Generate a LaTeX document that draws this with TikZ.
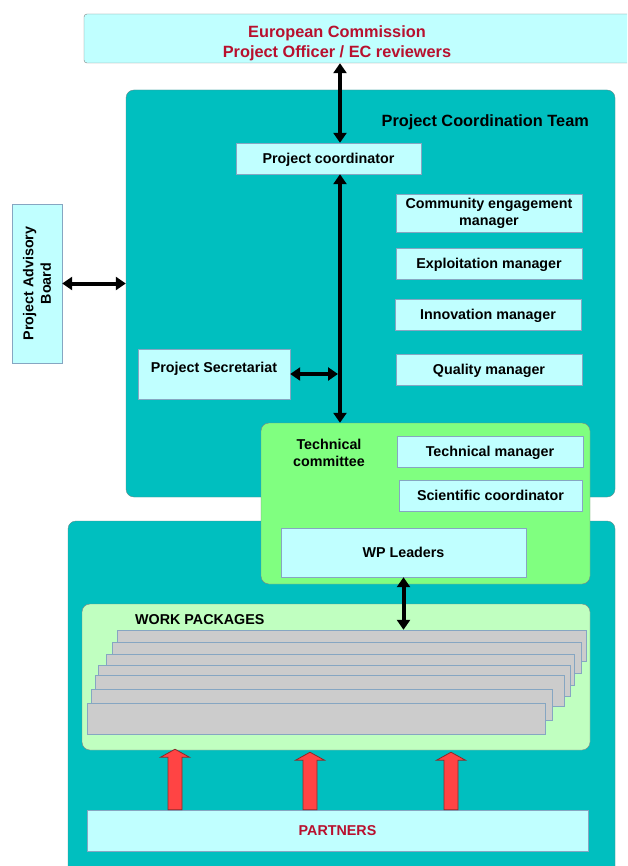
\documentclass[tikz,border=0pt]{standalone}
\usepackage{fontspec}
\setmainfont{Liberation Sans}
\usetikzlibrary{arrows.meta}

\definecolor{boxcyan}{HTML}{C0FFFF}
\definecolor{boxline}{HTML}{86A6C2}
\definecolor{pctteal}{HTML}{00BFBF}
\definecolor{panelline}{HTML}{5F8C8C}
\definecolor{tcgreen}{HTML}{80FF80}
\definecolor{wpgreen}{HTML}{C0FFC0}
\definecolor{wpgray}{HTML}{CCCCCC}
\definecolor{ecred}{HTML}{B8102E}
\definecolor{arrowred}{HTML}{FF4444}
\definecolor{arrowline}{HTML}{8A2A2A}

\tikzset{
  box/.style={draw=boxline, fill=boxcyan, inner sep=0pt},
  onebox/.style={box, text height=11pt, text depth=1pt},
  panel/.style={draw=panelline, fill=pctteal, rounded corners=8pt, inner sep=0pt},
  wpbox/.style={draw=boxline, fill=wpgray, inner sep=0pt},
  bigtext/.style={font=\fontsize{16.3}{20}\selectfont\bfseries},
  bigarrow/.style={line width=4pt, {Triangle[length=10pt,width=13pt]}-{Triangle[length=10pt,width=13pt]}},
  partarrow/.style={fill=arrowred, draw=arrowline, line width=0.8pt, line join=miter},
}

\begin{document}
\begin{tikzpicture}[x=1pt, y=-1pt, font=\fontsize{14.3}{17.5}\selectfont\bfseries]
    \clip (0,0) rectangle (627,866);
    \fill[white] (0,0) rectangle (627,866);

    % panels
    \node[panel, minimum width=489, minimum height=407] (pct) at (370.5,293.5) {};
    \node[panel, minimum width=547, minimum height=359] (ops) at (341.5,700.5) {};

    % European Commission
    \node[box, draw=gray, rounded corners=3pt, minimum width=556, minimum height=49] (ecbox) at (362,38.5) {};
    \node[bigtext, text=ecred, align=center] (ec) at (337,43) {European Commission\\Project Officer / EC reviewers};

    % coordination team
    \node[bigtext, anchor=east, inner sep=0pt] (pcttitle) at (589,122) {Project Coordination Team};
    \coordinate (spine) at (340,0);
    \node[onebox, minimum width=185, minimum height=31] (coord) at (328.5,158.5) {Project coordinator};
    \node[box, align=center, minimum width=186, minimum height=38] (cem) at (489,213.5) {Community engagement\\manager};
    \node[onebox, minimum width=186, minimum height=31] (expl) at (489,263.5) {Exploitation manager};
    \node[onebox, minimum width=186, minimum height=31] (innov) at (488,314.5) {Innovation manager};
    \node[onebox, minimum width=186, minimum height=31] (qual) at (489,369.5) {Quality manager};
    \node[onebox, minimum width=152, minimum height=50, text depth=15pt] (secr) at (214,374) {Project Secretariat};

    % advisory board
    \node[box, rotate=90, align=center, minimum width=159, minimum height=50] (pab) at (37,283.5) {Project Advisory\\Board};

    % technical committee
    \node[panel, fill=tcgreen, draw=gray, minimum width=329, minimum height=161] (tc) at (425.5,503.5) {};
    \node[align=center] (tctext) at (329,453) {Technical\\committee};
    \node[onebox, minimum width=186, minimum height=31] (techm) at (490,451.5) {Technical manager};
    \node[onebox, minimum width=183, minimum height=31] (scic) at (490.5,495.5) {Scientific coordinator};
    \node[onebox, minimum width=245, minimum height=49] (wpl) at (403.5,552.5) {WP Leaders};

    % work packages
    \node[panel, fill=wpgreen, draw=gray, minimum width=508, minimum height=146] (wps) at (336,677) {};
    \node[anchor=west, inner sep=0pt] (wptitle) at (135,620) {WORK PACKAGES};
    \foreach \l/\t/\r [count=\i] in {117/630/586, 112/642/581, 106/654/574, 98/665/570, 95/675/564, 91/689/552, 87/703/545}
        \node[wpbox, minimum width=\r-\l, minimum height=31] (wp\i) at ({(\l+\r)/2},\t+15.5) {};

    % partners
    \node[onebox, minimum width=501, minimum height=41, text=ecred] (partners) at (337.5,830.5) {PARTNERS};

    % arrows
    \draw[bigarrow] (ecbox.south -| spine) -- (coord.north -| spine);
    \draw[bigarrow] (coord.south -| spine) -- (tc.north -| spine);
    \draw[bigarrow] (secr.east) -- ([xshift=-2pt]secr.east -| spine);
    \draw[bigarrow] (pab.south) -- (pab.south -| pct.west);
    \draw[bigarrow] (wpl.south) -- (wpl.south |- wp1.north);

    \foreach \x/\g [count=\i] in {175/-1, 310/2, 451/2} {
        \coordinate (pb\i) at (partners.north -| \x,0);
        \coordinate (pt\i) at ([yshift=-\g pt]wps.south -| \x,0);
        \draw[partarrow] ([xshift=-7pt]pb\i) -- ([shift={(-7,8)}]pt\i) -- ([shift={(-14.5,8)}]pt\i)
            -- (pt\i) -- ([shift={(14.5,8)}]pt\i) -- ([shift={(7,8)}]pt\i) -- ([xshift=7pt]pb\i) -- cycle;
    }
\end{tikzpicture}
\end{document}
